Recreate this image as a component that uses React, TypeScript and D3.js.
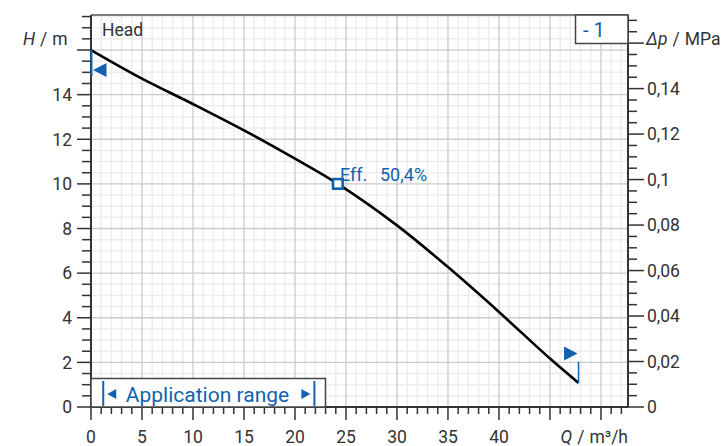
import React from "react";
import * as d3 from "d3";

const flowQ = [0, 5, 10, 15, 20, 24.2, 30, 35, 40, 45, 47.8];
const headH = [16.0, 14.72, 13.58, 12.4, 11.13, 10.0, 8.14, 6.27, 4.26, 2.17, 1.08];
const effPoint = { q: 24.2, h: 10.0, label: "Eff.", value: "50,4%" };
const xTickLabels = [0, 5, 10, 15, 20, 25, 30, 35, 40];
const yTickLabels = [0, 2, 4, 6, 8, 10, 12, 14];
const pTickLabels = [0, 0.02, 0.04, 0.06, 0.08, 0.1, 0.12, 0.14];
const appRange = [1.2, 22];

const W = 727, H = 446;
const L = 91, R = 628, T = 15, B = 407;
const BLUE = "#1062b0";
const DARK = "#333";
const FONT = "Roboto, 'Noto Sans', sans-serif";
const MPA_PER_M = 0.00981;

export default function App() {
  const x = d3.scaleLinear().domain([0, 52.65]).range([L, R]);
  const y = d3.scaleLinear().domain([0, 17.57]).range([B, T]);
  const yp = (p: number) => y(p / MPA_PER_M);

  const pts = flowQ.map((q, i) => [q, headH[i]] as [number, number]);
  const line = d3
    .line<[number, number]>()
    .x((d) => x(d[0]))
    .y((d) => y(d[1]))
    .curve(d3.curveCatmullRom.alpha(0.5));

  const xMinor = d3.range(1, 53, 1);
  const yMinor = d3.range(0.5, 17.6, 0.5);
  const pMinor = d3.range(0, 0.1701, 0.005);
  const fmt = (v: number) => (v === 0 ? "0" : String(+v.toFixed(2)).replace(".", ","));

  const end = pts[pts.length - 1];
  const fs = 17.5;

  return (
    <svg width={W} height={H} style={{ position: "absolute", left: 0, top: 0 }} fontFamily={FONT}>
      <rect x={0} y={0} width={W} height={H} fill="#fff" />
      {xMinor.filter((q) => q % 5 !== 0).map((q) => (
        <line key={"vx" + q} x1={x(q)} x2={x(q)} y1={T} y2={B} stroke="#ededed" strokeWidth={1.5} />
      ))}
      {yMinor.filter((h) => h % 2 !== 0).map((h) => (
        <line key={"hy" + h} x1={L} x2={R} y1={y(h)} y2={y(h)} stroke="#ededed" strokeWidth={1.5} />
      ))}
      {xMinor.filter((q) => q % 5 === 0).map((q) => (
        <line key={"Vx" + q} x1={x(q)} x2={x(q)} y1={T} y2={B} stroke="#cbcbcb" strokeWidth={1.3} />
      ))}
      {yMinor.filter((h) => h % 2 === 0).map((h) => (
        <line key={"Hy" + h} x1={L} x2={R} y1={y(h)} y2={y(h)} stroke="#cbcbcb" strokeWidth={1.3} />
      ))}

      <line x1={L} x2={R} y1={T} y2={T} stroke="#555" strokeWidth={1.5} />
      <line x1={L} x2={L} y1={T} y2={B} stroke={DARK} strokeWidth={2} />
      <line x1={R} x2={R} y1={T} y2={B} stroke={DARK} strokeWidth={2} />
      <line x1={L} x2={R} y1={B} y2={B} stroke={DARK} strokeWidth={2} />

      {d3.range(0, 17.6, 0.5).map((h) => {
        const major = h % 2 === 0 || h === 16;
        return <line key={"lt" + h} x1={L} x2={L - (major ? 14 : 9)} y1={y(h)} y2={y(h)} stroke={DARK} strokeWidth={1.5} />;
      })}
      {yTickLabels.map((h) => (
        <text key={"ll" + h} x={72} y={y(h)} dy="0.36em" textAnchor="end" fontSize={fs} fill={DARK}>{h}</text>
      ))}
      <text x={23} y={45} fontSize={fs} fill={DARK}>
        <tspan fontStyle="italic">H</tspan>
        <tspan dx={5}>/</tspan>
        <tspan dx={5}>m</tspan>
      </text>

      {pMinor.map((p, i) => {
        const major = i % 4 === 0;
        return <line key={"rt" + i} x1={R} x2={R + (major ? 16 : 9)} y1={yp(p)} y2={yp(p)} stroke={DARK} strokeWidth={1.5} />;
      })}
      {pTickLabels.map((p) => (
        <text key={"rl" + p} x={647} y={yp(p)} dy="0.36em" fontSize={fs} fill={DARK}>{fmt(p)}</text>
      ))}
      <text x={646} y={45} fontSize={fs} fill={DARK}>
        <tspan fontStyle="italic">Δp</tspan>
        <tspan dx={5}>/</tspan>
        <tspan dx={5}>MPa</tspan>
      </text>

      {d3.range(0, 53, 1).map((q) => {
        const major = q % 5 === 0;
        return <line key={"bt" + q} x1={x(q)} x2={x(q)} y1={B} y2={B + (major ? 13 : 7)} stroke={DARK} strokeWidth={1.5} />;
      })}
      {xTickLabels.map((q) => (
        <text key={"bl" + q} x={x(q)} y={443} textAnchor="middle" fontSize={fs} fill={DARK}>{q}</text>
      ))}
      <text x={628} y={443} textAnchor="end" fontSize={fs} fill={DARK}>
        <tspan fontStyle="italic">Q</tspan>
        <tspan dx={5}>/</tspan>
        <tspan dx={5}>m³/h</tspan>
      </text>

      <text x={102} y={35.5} fontSize={fs} fill={DARK}>Head</text>

      <rect x={575.5} y={15} width={52.5} height={28.5} fill="#fff" stroke="#444" strokeWidth={1.5} />
      <text x={583} y={37} fontSize={20} fill={BLUE}>- 1</text>

      <rect x={L} y={378.5} width={325.5 - L} height={B - 378.5} fill="#fff" stroke="#444" strokeWidth={1.5} />
      <line x1={x(appRange[0])} x2={x(appRange[0])} y1={381} y2={406} stroke={BLUE} strokeWidth={2} />
      <line x1={x(appRange[1]) - 1} x2={x(appRange[1]) - 1} y1={381} y2={406} stroke={BLUE} strokeWidth={2} />
      <path d={`M${x(appRange[0]) + 4},394 l9,-5 v10 z`} fill={BLUE} />
      <path d={`M${x(appRange[1]) - 5},394 l-9,-5 v10 z`} fill={BLUE} />
      <text x={207.5} y={401.5} textAnchor="middle" fontSize={21} fill={BLUE}>Application range</text>

      <path d={line(pts) || ""} fill="none" stroke="#000" strokeWidth={2.6} />

      <line x1={L + 0.5} x2={L + 0.5} y1={y(pts[0][1])} y2={y(15.1) + 6} stroke={BLUE} strokeWidth={2} />
      <path d={`M${L + 2},${y(15.1)} l13.5,-7 v14 z`} fill={BLUE} />
      <line x1={x(end[0])} x2={x(end[0])} y1={y(end[1])} y2={y(2.03)} stroke={BLUE} strokeWidth={1.5} />
      <path d={`M${x(end[0]) - 1},${y(2.4)} l-13.5,-7 v14 z`} fill={BLUE} />

      <rect x={x(effPoint.q) - 4.8} y={y(effPoint.h) - 4.8} width={9.6} height={9.6} fill="#fff" stroke={BLUE} strokeWidth={2.6} />
      <text y={180.5} fontSize={18} fill={BLUE}>
        <tspan x={340}>{effPoint.label}</tspan>
        <tspan x={380}>{effPoint.value}</tspan>
      </text>
    </svg>
  );
}
